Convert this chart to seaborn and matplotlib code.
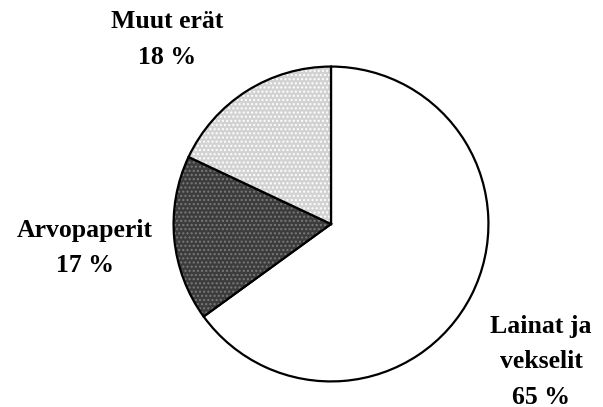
import matplotlib
matplotlib.use("Agg")
import matplotlib.pyplot as plt
import seaborn as sns

labels = ["Lainat ja\nvekselit", "Arvopaperit", "Muut erät"]
values = [65, 17, 18]
colors = ["#ffffff", "#3c3c3c", "#d2d2d2"]
hatches = ["", "....", "...."]
hatch_colors = ["black", "#7a7a7a", "#ffffff"]

sns.set_theme(style="white")
plt.rcParams['font.family'] = ['Liberation Serif', 'DejaVu Serif']

W, H = 603, 407
fig = plt.figure(figsize=(W / 100, H / 100), dpi=100)
cx, cy, r = 331, 224, 159
ax = fig.add_axes([(cx - r) / W, (H - cy - r) / H, 2 * r / W, 2 * r / H])

wedges, _ = ax.pie(values, colors=colors, startangle=90, counterclock=False,
                   radius=1.0,
                   wedgeprops=dict(edgecolor="black", linewidth=1.6))
for w, h, hc in zip(wedges, hatches, hatch_colors):
    if h:
        w.set_hatch(h)
        w._hatch_color = matplotlib.colors.to_rgba(hc)
ax.set_xlim(-1.01, 1.01)
ax.set_ylim(-1.01, 1.01)
ax.set_aspect("equal")
ax.axis("off")

label_pos = [(541, 327), (85, 230), (167, 22)]
for lab, v, (px, py) in zip(labels, values, label_pos):
    lines = lab.split("\n") + [f"{v} %"]
    for i, line in enumerate(lines):
        fig.text(px / W, 1 - (py + i * 35) / H, line, ha="center", va="center",
                 fontsize=18.5, fontweight="bold", color="black")

fig.savefig("out.png", dpi=100)
